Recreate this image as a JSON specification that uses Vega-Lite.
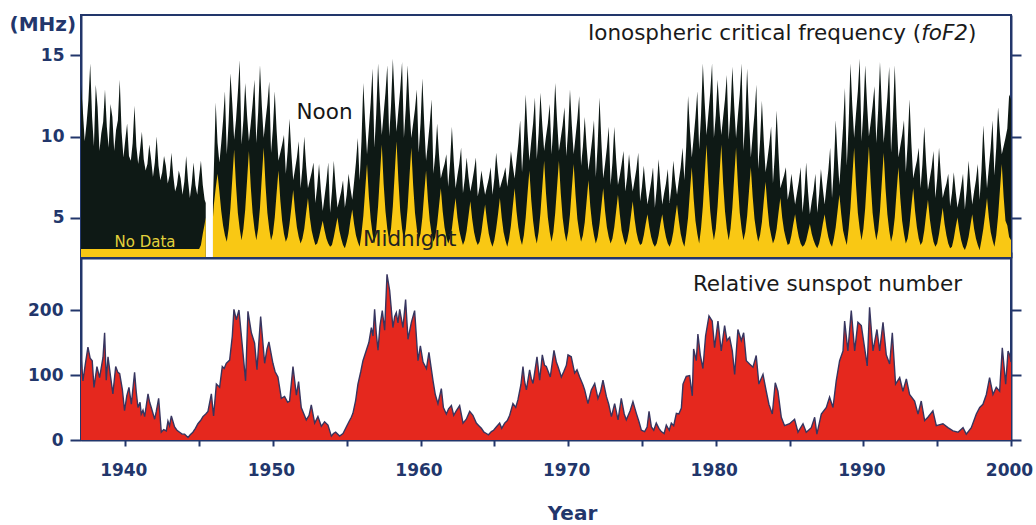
{
"$schema":"https://vega.github.io/schema/vega-lite/v6.json",
"background":"white",
"padding":{"left":8,"top":13,"right":20,"bottom":0},
"spacing":0,
"bounds":"flush",
"config":{
 "font":"DejaVu Sans",
 "view":{"stroke":"#22366b","strokeWidth":2},
 "axis":{"domainColor":"#22366b","domainWidth":2,"tickColor":"#22366b","tickWidth":2,"labelColor":"#22366b","labelFont":"DejaVu Sans","labelFontSize":17,"labelFontWeight":"bold","grid":false,"titleColor":"#22366b","titleFont":"DejaVu Sans","titleFontWeight":"normal","zindex":1,"labelOverlap":false,"labelBound":false}
},
"datasets":{
"fof2":[
{"t":1937,"n":13.2,"m":3.05},{"t":1937.125,"n":11.6,"m":3.05},{"t":1937.25,"n":9.7,"m":3.05},{"t":1937.375,"n":10.8,"m":3.05},{"t":1937.5,"n":12.2,"m":3.05},{"t":1937.625,"n":14.5,"m":3.05},{"t":1937.75,"n":11.2,"m":3.05},{"t":1937.875,"n":9.4,"m":3.05},
{"t":1938,"n":13.2,"m":3.05},{"t":1938.125,"n":11.8,"m":3.05},{"t":1938.25,"n":9.1,"m":3.05},{"t":1938.375,"n":10.2,"m":3.05},{"t":1938.5,"n":10.9,"m":3.05},{"t":1938.625,"n":12.9,"m":3.05},{"t":1938.75,"n":10.6,"m":3.05},{"t":1938.875,"n":9.3,"m":3.05},
{"t":1939,"n":12.0,"m":3.05},{"t":1939.125,"n":11.2,"m":3.05},{"t":1939.25,"n":9.1,"m":3.05},{"t":1939.375,"n":10.4,"m":3.05},{"t":1939.5,"n":11.0,"m":3.05},{"t":1939.625,"n":13.5,"m":3.05},{"t":1939.75,"n":10.3,"m":3.05},{"t":1939.875,"n":8.7,"m":3.05},
{"t":1940,"n":9.8,"m":3.05},{"t":1940.125,"n":10.8,"m":3.05},{"t":1940.25,"n":8.8,"m":3.05},{"t":1940.375,"n":8.5,"m":3.05},{"t":1940.5,"n":9.6,"m":3.05},{"t":1940.625,"n":11.9,"m":3.05},{"t":1940.75,"n":9.4,"m":3.05},{"t":1940.875,"n":8.3,"m":3.05},
{"t":1941,"n":9.2,"m":3.05},{"t":1941.125,"n":10.3,"m":3.05},{"t":1941.25,"n":8.6,"m":3.05},{"t":1941.375,"n":7.9,"m":3.05},{"t":1941.5,"n":8.3,"m":3.05},{"t":1941.625,"n":9.5,"m":3.05},{"t":1941.75,"n":8.6,"m":3.05},{"t":1941.875,"n":7.5,"m":3.05},
{"t":1942,"n":8.4,"m":3.05},{"t":1942.125,"n":10.0,"m":3.05},{"t":1942.25,"n":8.2,"m":3.05},{"t":1942.375,"n":7.3,"m":3.05},{"t":1942.5,"n":7.8,"m":3.05},{"t":1942.625,"n":8.8,"m":3.05},{"t":1942.75,"n":8.2,"m":3.05},{"t":1942.875,"n":7.1,"m":3.05},
{"t":1943,"n":7.6,"m":3.05},{"t":1943.125,"n":9.0,"m":3.05},{"t":1943.25,"n":7.6,"m":3.05},{"t":1943.375,"n":6.6,"m":3.05},{"t":1943.5,"n":7.0,"m":3.05},{"t":1943.625,"n":7.9,"m":3.05},{"t":1943.75,"n":7.4,"m":3.05},{"t":1943.875,"n":6.4,"m":3.05},
{"t":1944,"n":7.2,"m":3.05},{"t":1944.125,"n":8.8,"m":3.05},{"t":1944.25,"n":7.3,"m":3.05},{"t":1944.375,"n":6.2,"m":3.05},{"t":1944.5,"n":7.1,"m":3.05},{"t":1944.625,"n":8.4,"m":3.05},{"t":1944.75,"n":7.0,"m":3.05},{"t":1944.875,"n":6.4,"m":3.05},
{"t":1945,"n":7.5,"m":3.05},{"t":1945.125,"n":8.5,"m":3.3},{"t":1945.25,"n":7.0,"m":4.0},{"t":1945.375,"n":6.1,"m":4.6},{"t":1945.45,"n":5.9,"m":5.0},
{"t":1945.7,"n":null,"m":null},
{"t":1945.94,"n":6.0,"m":5.0},
{"t":1946,"n":8.0,"m":5.8},{"t":1946.125,"n":12.1,"m":6.8},{"t":1946.25,"n":9.6,"m":7.7},{"t":1946.375,"n":8.4,"m":6.6},{"t":1946.5,"n":9.6,"m":5.4},{"t":1946.625,"n":11.0,"m":4.5},{"t":1946.75,"n":12.8,"m":3.9},{"t":1946.875,"n":8.9,"m":3.5},
{"t":1947,"n":10.9,"m":4.3},{"t":1947.125,"n":13.9,"m":5.6},{"t":1947.25,"n":12.0,"m":7.4},{"t":1947.375,"n":9.8,"m":9.2},{"t":1947.5,"n":11.0,"m":7.0},{"t":1947.625,"n":12.7,"m":5.3},{"t":1947.75,"n":14.7,"m":4.3},{"t":1947.875,"n":9.5,"m":3.6},
{"t":1948,"n":11.0,"m":4.3},{"t":1948.125,"n":13.3,"m":5.5},{"t":1948.25,"n":11.3,"m":7.3},{"t":1948.375,"n":9.7,"m":9.1},{"t":1948.5,"n":10.8,"m":6.9},{"t":1948.625,"n":12.0,"m":5.3},{"t":1948.75,"n":13.5,"m":4.3},{"t":1948.875,"n":9.6,"m":3.6},
{"t":1949,"n":11.5,"m":4.3},{"t":1949.125,"n":14.4,"m":5.6},{"t":1949.25,"n":11.9,"m":7.5},{"t":1949.375,"n":9.9,"m":9.3},{"t":1949.5,"n":11.0,"m":7.0},{"t":1949.625,"n":12.0,"m":5.3},{"t":1949.75,"n":13.4,"m":4.3},{"t":1949.875,"n":9.0,"m":3.6},
{"t":1950,"n":10.5,"m":4.0},{"t":1950.125,"n":12.8,"m":5.0},{"t":1950.25,"n":10.4,"m":6.5},{"t":1950.375,"n":8.5,"m":7.9},{"t":1950.5,"n":9.0,"m":6.1},{"t":1950.625,"n":9.5,"m":4.8},{"t":1950.75,"n":10.1,"m":4.0},{"t":1950.875,"n":7.7,"m":3.5},
{"t":1951,"n":9.1,"m":3.8},{"t":1951.125,"n":11.1,"m":4.6},{"t":1951.25,"n":9.0,"m":5.6},{"t":1951.375,"n":7.3,"m":6.7},{"t":1951.5,"n":8.0,"m":5.4},{"t":1951.625,"n":8.7,"m":4.4},{"t":1951.75,"n":9.7,"m":3.8},{"t":1951.875,"n":6.8,"m":3.4},
{"t":1952,"n":8.1,"m":3.7},{"t":1952.125,"n":10.0,"m":4.3},{"t":1952.25,"n":8.2,"m":5.3},{"t":1952.375,"n":6.8,"m":6.2},{"t":1952.5,"n":7.3,"m":5.0},{"t":1952.625,"n":7.8,"m":4.2},{"t":1952.75,"n":8.4,"m":3.7},{"t":1952.875,"n":5.9,"m":3.3},
{"t":1953,"n":6.9,"m":3.4},{"t":1953.125,"n":8.3,"m":3.8},{"t":1953.25,"n":6.7,"m":4.3},{"t":1953.375,"n":5.4,"m":4.8},{"t":1953.5,"n":6.3,"m":4.2},{"t":1953.625,"n":7.2,"m":3.7},{"t":1953.75,"n":8.4,"m":3.4},{"t":1953.875,"n":5.3,"m":3.2},
{"t":1954,"n":6.6,"m":3.3},{"t":1954.125,"n":8.5,"m":3.8},{"t":1954.25,"n":6.9,"m":4.4},{"t":1954.375,"n":5.6,"m":5.0},{"t":1954.5,"n":6.1,"m":4.2},{"t":1954.625,"n":6.6,"m":3.7},{"t":1954.75,"n":7.3,"m":3.3},{"t":1954.875,"n":5.6,"m":3.1},
{"t":1955,"n":6.4,"m":3.5},{"t":1955.125,"n":7.7,"m":4.0},{"t":1955.25,"n":6.8,"m":4.8},{"t":1955.375,"n":6.1,"m":5.5},{"t":1955.5,"n":7.2,"m":4.6},{"t":1955.625,"n":8.4,"m":3.9},{"t":1955.75,"n":9.9,"m":3.5},{"t":1955.875,"n":7.3,"m":3.2},
{"t":1956,"n":9.7,"m":4.0},{"t":1956.125,"n":13.3,"m":5.1},{"t":1956.25,"n":10.9,"m":6.7},{"t":1956.375,"n":8.9,"m":8.3},{"t":1956.5,"n":10.5,"m":6.3},{"t":1956.625,"n":12.1,"m":4.9},{"t":1956.75,"n":14.2,"m":4.0},{"t":1956.875,"n":9.3,"m":3.4},
{"t":1957,"n":11.4,"m":4.3},{"t":1957.125,"n":14.5,"m":5.7},{"t":1957.25,"n":12.1,"m":7.6},{"t":1957.375,"n":10.1,"m":9.5},{"t":1957.5,"n":11.4,"m":7.1},{"t":1957.625,"n":12.7,"m":5.4},{"t":1957.75,"n":14.4,"m":4.3},{"t":1957.875,"n":10.0,"m":3.6},
{"t":1958,"n":11.9,"m":4.3},{"t":1958.125,"n":14.8,"m":5.7},{"t":1958.25,"n":12.3,"m":7.7},{"t":1958.375,"n":10.3,"m":9.7},{"t":1958.5,"n":11.6,"m":7.3},{"t":1958.625,"n":12.9,"m":5.4},{"t":1958.75,"n":14.6,"m":4.3},{"t":1958.875,"n":9.9,"m":3.6},
{"t":1959,"n":11.7,"m":4.3},{"t":1959.125,"n":14.4,"m":5.6},{"t":1959.25,"n":11.9,"m":7.5},{"t":1959.375,"n":9.9,"m":9.3},{"t":1959.5,"n":10.8,"m":7.0},{"t":1959.625,"n":11.7,"m":5.3},{"t":1959.75,"n":12.9,"m":4.3},{"t":1959.875,"n":9.0,"m":3.6},
{"t":1960,"n":10.8,"m":4.0},{"t":1960.125,"n":13.6,"m":5.0},{"t":1960.25,"n":10.8,"m":6.5},{"t":1960.375,"n":8.5,"m":7.9},{"t":1960.5,"n":9.6,"m":6.1},{"t":1960.625,"n":10.8,"m":4.8},{"t":1960.75,"n":12.3,"m":4.0},{"t":1960.875,"n":7.7,"m":3.5},
{"t":1961,"n":8.9,"m":3.8},{"t":1961.125,"n":10.8,"m":4.6},{"t":1961.25,"n":8.9,"m":5.7},{"t":1961.375,"n":7.4,"m":6.8},{"t":1961.5,"n":7.9,"m":5.4},{"t":1961.625,"n":8.3,"m":4.4},{"t":1961.75,"n":8.9,"m":3.8},{"t":1961.875,"n":6.9,"m":3.4},
{"t":1962,"n":8.4,"m":3.7},{"t":1962.125,"n":10.6,"m":4.3},{"t":1962.25,"n":8.5,"m":5.3},{"t":1962.375,"n":6.8,"m":6.2},{"t":1962.5,"n":7.6,"m":5.0},{"t":1962.625,"n":8.3,"m":4.2},{"t":1962.75,"n":9.3,"m":3.7},{"t":1962.875,"n":6.5,"m":3.3},
{"t":1963,"n":7.4,"m":3.6},{"t":1963.125,"n":8.7,"m":4.2},{"t":1963.25,"n":7.5,"m":5.1},{"t":1963.375,"n":6.6,"m":6.0},{"t":1963.5,"n":7.2,"m":4.9},{"t":1963.625,"n":7.9,"m":4.1},{"t":1963.75,"n":8.7,"m":3.6},{"t":1963.875,"n":6.3,"m":3.3},
{"t":1964,"n":6.9,"m":3.5},{"t":1964.125,"n":7.9,"m":4.1},{"t":1964.25,"n":7.1,"m":5.0},{"t":1964.375,"n":6.4,"m":5.8},{"t":1964.5,"n":6.9,"m":4.8},{"t":1964.625,"n":7.4,"m":4.0},{"t":1964.75,"n":8.1,"m":3.5},{"t":1964.875,"n":6.4,"m":3.2},
{"t":1965,"n":7.4,"m":3.6},{"t":1965.125,"n":9.0,"m":4.3},{"t":1965.25,"n":7.8,"m":5.2},{"t":1965.375,"n":6.8,"m":6.2},{"t":1965.5,"n":7.2,"m":5.0},{"t":1965.625,"n":7.6,"m":4.1},{"t":1965.75,"n":8.1,"m":3.6},{"t":1965.875,"n":6.9,"m":3.2},
{"t":1966,"n":7.8,"m":3.7},{"t":1966.125,"n":9.1,"m":4.5},{"t":1966.25,"n":8.2,"m":5.7},{"t":1966.375,"n":7.4,"m":6.8},{"t":1966.5,"n":8.5,"m":5.4},{"t":1966.625,"n":9.6,"m":4.4},{"t":1966.75,"n":11.0,"m":3.7},{"t":1966.875,"n":7.8,"m":3.3},
{"t":1967,"n":9.7,"m":3.9},{"t":1967.125,"n":12.6,"m":5.0},{"t":1967.25,"n":10.3,"m":6.5},{"t":1967.375,"n":8.5,"m":7.9},{"t":1967.5,"n":9.7,"m":6.1},{"t":1967.625,"n":10.8,"m":4.8},{"t":1967.75,"n":12.4,"m":3.9},{"t":1967.875,"n":8.6,"m":3.4},
{"t":1968,"n":10.2,"m":4.1},{"t":1968.125,"n":12.7,"m":5.3},{"t":1968.25,"n":10.7,"m":6.9},{"t":1968.375,"n":9.1,"m":8.5},{"t":1968.5,"n":10.0,"m":6.5},{"t":1968.625,"n":10.8,"m":5.0},{"t":1968.75,"n":12.0,"m":4.1},{"t":1968.875,"n":8.9,"m":3.5},
{"t":1969,"n":10.7,"m":4.1},{"t":1969.125,"n":13.3,"m":5.3},{"t":1969.25,"n":11.0,"m":6.9},{"t":1969.375,"n":9.1,"m":8.5},{"t":1969.5,"n":9.9,"m":6.5},{"t":1969.625,"n":10.7,"m":5.0},{"t":1969.75,"n":11.8,"m":4.1},{"t":1969.875,"n":8.8,"m":3.5},
{"t":1970,"n":10.4,"m":4.1},{"t":1970.125,"n":12.9,"m":5.2},{"t":1970.25,"n":10.7,"m":6.8},{"t":1970.375,"n":8.9,"m":8.3},{"t":1970.5,"n":10.0,"m":6.4},{"t":1970.625,"n":11.1,"m":4.9},{"t":1970.75,"n":12.5,"m":4.1},{"t":1970.875,"n":8.2,"m":3.5},
{"t":1971,"n":9.4,"m":3.9},{"t":1971.125,"n":11.2,"m":4.7},{"t":1971.25,"n":9.4,"m":6.0},{"t":1971.375,"n":7.9,"m":7.3},{"t":1971.5,"n":8.8,"m":5.7},{"t":1971.625,"n":9.8,"m":4.6},{"t":1971.75,"n":11.0,"m":3.9},{"t":1971.875,"n":7.5,"m":3.4},
{"t":1972,"n":9.5,"m":3.8},{"t":1972.125,"n":12.4,"m":4.6},{"t":1972.25,"n":9.7,"m":5.7},{"t":1972.375,"n":7.4,"m":6.8},{"t":1972.5,"n":8.3,"m":5.4},{"t":1972.625,"n":9.3,"m":4.4},{"t":1972.75,"n":10.6,"m":3.8},{"t":1972.875,"n":7.0,"m":3.4},
{"t":1973,"n":8.4,"m":3.7},{"t":1973.125,"n":10.6,"m":4.4},{"t":1973.25,"n":8.6,"m":5.4},{"t":1973.375,"n":7.0,"m":6.4},{"t":1973.5,"n":7.6,"m":5.2},{"t":1973.625,"n":8.3,"m":4.2},{"t":1973.75,"n":9.1,"m":3.7},{"t":1973.875,"n":6.6,"m":3.3},
{"t":1974,"n":7.5,"m":3.6},{"t":1974.125,"n":8.9,"m":4.2},{"t":1974.25,"n":7.6,"m":5.1},{"t":1974.375,"n":6.6,"m":6.0},{"t":1974.5,"n":7.3,"m":4.9},{"t":1974.625,"n":8.0,"m":4.1},{"t":1974.75,"n":9.0,"m":3.6},{"t":1974.875,"n":6.0,"m":3.3},
{"t":1975,"n":6.9,"m":3.4},{"t":1975.125,"n":8.2,"m":3.9},{"t":1975.25,"n":6.9,"m":4.6},{"t":1975.375,"n":5.8,"m":5.2},{"t":1975.5,"n":6.5,"m":4.4},{"t":1975.625,"n":7.2,"m":3.8},{"t":1975.75,"n":8.1,"m":3.4},{"t":1975.875,"n":5.6,"m":3.2},
{"t":1976,"n":6.8,"m":3.4},{"t":1976.125,"n":8.6,"m":3.9},{"t":1976.25,"n":7.1,"m":4.6},{"t":1976.375,"n":5.8,"m":5.2},{"t":1976.5,"n":6.5,"m":4.4},{"t":1976.625,"n":7.1,"m":3.8},{"t":1976.75,"n":8.0,"m":3.4},{"t":1976.875,"n":5.9,"m":3.2},
{"t":1977,"n":6.9,"m":3.5},{"t":1977.125,"n":8.5,"m":4.1},{"t":1977.25,"n":7.3,"m":5.0},{"t":1977.375,"n":6.4,"m":5.8},{"t":1977.5,"n":7.3,"m":4.8},{"t":1977.625,"n":8.1,"m":4.0},{"t":1977.75,"n":9.3,"m":3.5},{"t":1977.875,"n":7.3,"m":3.2},
{"t":1978,"n":9.4,"m":4.0},{"t":1978.125,"n":12.5,"m":5.0},{"t":1978.25,"n":10.4,"m":6.6},{"t":1978.375,"n":8.7,"m":8.1},{"t":1978.5,"n":9.9,"m":6.2},{"t":1978.625,"n":11.2,"m":4.8},{"t":1978.75,"n":12.8,"m":4.0},{"t":1978.875,"n":9.2,"m":3.4},
{"t":1979,"n":11.3,"m":4.3},{"t":1979.125,"n":14.5,"m":5.7},{"t":1979.25,"n":12.1,"m":7.6},{"t":1979.375,"n":10.1,"m":9.5},{"t":1979.5,"n":11.4,"m":7.1},{"t":1979.625,"n":12.7,"m":5.4},{"t":1979.75,"n":14.5,"m":4.3},{"t":1979.875,"n":9.9,"m":3.6},
{"t":1980,"n":11.3,"m":4.3},{"t":1980.125,"n":13.5,"m":5.7},{"t":1980.25,"n":11.6,"m":7.6},{"t":1980.375,"n":10.1,"m":9.5},{"t":1980.5,"n":11.2,"m":7.1},{"t":1980.625,"n":12.3,"m":5.4},{"t":1980.75,"n":13.8,"m":4.3},{"t":1980.875,"n":9.8,"m":3.6},
{"t":1981,"n":11.6,"m":4.3},{"t":1981.125,"n":14.3,"m":5.6},{"t":1981.25,"n":11.9,"m":7.5},{"t":1981.375,"n":9.9,"m":9.3},{"t":1981.5,"n":11.3,"m":7.0},{"t":1981.625,"n":12.6,"m":5.3},{"t":1981.75,"n":14.5,"m":4.3},{"t":1981.875,"n":9.1,"m":3.6},
{"t":1982,"n":11.1,"m":4.1},{"t":1982.125,"n":14.2,"m":5.1},{"t":1982.25,"n":11.2,"m":6.6},{"t":1982.375,"n":8.7,"m":8.1},{"t":1982.5,"n":10.1,"m":6.3},{"t":1982.625,"n":11.4,"m":4.9},{"t":1982.75,"n":13.2,"m":4.1},{"t":1982.875,"n":8.0,"m":3.5},
{"t":1983,"n":9.7,"m":3.9},{"t":1983.125,"n":12.2,"m":4.7},{"t":1983.25,"n":9.8,"m":6.0},{"t":1983.375,"n":7.8,"m":7.2},{"t":1983.5,"n":8.6,"m":5.7},{"t":1983.625,"n":9.5,"m":4.5},{"t":1983.75,"n":10.6,"m":3.9},{"t":1983.875,"n":7.1,"m":3.4},
{"t":1984,"n":8.9,"m":3.7},{"t":1984.125,"n":11.6,"m":4.3},{"t":1984.25,"n":9.0,"m":5.3},{"t":1984.375,"n":6.8,"m":6.2},{"t":1984.5,"n":7.2,"m":5.0},{"t":1984.625,"n":7.6,"m":4.2},{"t":1984.75,"n":8.1,"m":3.7},{"t":1984.875,"n":6.1,"m":3.3},
{"t":1985,"n":6.7,"m":3.4},{"t":1985.125,"n":7.7,"m":3.9},{"t":1985.25,"n":6.7,"m":4.6},{"t":1985.375,"n":5.8,"m":5.2},{"t":1985.5,"n":6.5,"m":4.4},{"t":1985.625,"n":7.2,"m":3.8},{"t":1985.75,"n":8.1,"m":3.4},{"t":1985.875,"n":5.3,"m":3.2},
{"t":1986,"n":6.5,"m":3.3},{"t":1986.125,"n":8.4,"m":3.6},{"t":1986.25,"n":6.6,"m":4.1},{"t":1986.375,"n":5.2,"m":4.6},{"t":1986.5,"n":6.0,"m":4.0},{"t":1986.625,"n":6.7,"m":3.6},{"t":1986.75,"n":7.7,"m":3.3},{"t":1986.875,"n":5.3,"m":3.1},
{"t":1987,"n":6.4,"m":3.4},{"t":1987.125,"n":8.0,"m":3.9},{"t":1987.25,"n":6.8,"m":4.6},{"t":1987.375,"n":5.8,"m":5.2},{"t":1987.5,"n":6.9,"m":4.4},{"t":1987.625,"n":7.9,"m":3.8},{"t":1987.75,"n":9.3,"m":3.4},{"t":1987.875,"n":6.2,"m":3.2},
{"t":1988,"n":8.1,"m":3.7},{"t":1988.125,"n":11.0,"m":4.4},{"t":1988.25,"n":8.8,"m":5.4},{"t":1988.375,"n":7.0,"m":6.4},{"t":1988.5,"n":8.8,"m":5.2},{"t":1988.625,"n":10.6,"m":4.2},{"t":1988.75,"n":13.0,"m":3.7},{"t":1988.875,"n":8.2,"m":3.3},
{"t":1989,"n":10.7,"m":4.3},{"t":1989.125,"n":14.5,"m":5.6},{"t":1989.25,"n":11.9,"m":7.5},{"t":1989.375,"n":9.9,"m":9.3},{"t":1989.5,"n":11.4,"m":7.0},{"t":1989.625,"n":12.8,"m":5.3},{"t":1989.75,"n":14.8,"m":4.3},{"t":1989.875,"n":9.7,"m":3.6},
{"t":1990,"n":11.6,"m":4.3},{"t":1990.125,"n":14.4,"m":5.6},{"t":1990.25,"n":12.0,"m":7.5},{"t":1990.375,"n":10.0,"m":9.4},{"t":1990.5,"n":10.9,"m":7.1},{"t":1990.625,"n":11.9,"m":5.3},{"t":1990.75,"n":13.1,"m":4.3},{"t":1990.875,"n":9.6,"m":3.6},
{"t":1991,"n":11.6,"m":4.2},{"t":1991.125,"n":14.6,"m":5.4},{"t":1991.25,"n":11.8,"m":7.2},{"t":1991.375,"n":9.6,"m":9.0},{"t":1991.5,"n":11.0,"m":6.8},{"t":1991.625,"n":12.4,"m":5.2},{"t":1991.75,"n":14.3,"m":4.2},{"t":1991.875,"n":9.0,"m":3.5},
{"t":1992,"n":11.2,"m":4.0},{"t":1992.125,"n":14.4,"m":5.0},{"t":1992.25,"n":11.2,"m":6.6},{"t":1992.375,"n":8.7,"m":8.1},{"t":1992.5,"n":9.4,"m":6.2},{"t":1992.625,"n":10.1,"m":4.8},{"t":1992.75,"n":11.0,"m":4.0},{"t":1992.875,"n":7.8,"m":3.4},
{"t":1993,"n":9.6,"m":3.7},{"t":1993.125,"n":12.3,"m":4.5},{"t":1993.25,"n":9.6,"m":5.7},{"t":1993.375,"n":7.4,"m":6.8},{"t":1993.5,"n":8.0,"m":5.4},{"t":1993.625,"n":8.5,"m":4.4},{"t":1993.75,"n":9.3,"m":3.7},{"t":1993.875,"n":6.8,"m":3.3},
{"t":1994,"n":8.3,"m":3.5},{"t":1994.125,"n":10.6,"m":4.2},{"t":1994.25,"n":8.4,"m":5.2},{"t":1994.375,"n":6.7,"m":6.1},{"t":1994.5,"n":7.4,"m":4.9},{"t":1994.625,"n":8.1,"m":4.1},{"t":1994.75,"n":9.1,"m":3.5},{"t":1994.875,"n":6.2,"m":3.2},
{"t":1995,"n":7.4,"m":3.4},{"t":1995.125,"n":9.3,"m":4.0},{"t":1995.25,"n":7.6,"m":4.8},{"t":1995.375,"n":6.2,"m":5.6},{"t":1995.5,"n":6.7,"m":4.6},{"t":1995.625,"n":7.1,"m":3.9},{"t":1995.75,"n":7.7,"m":3.4},{"t":1995.875,"n":5.7,"m":3.1},
{"t":1996,"n":6.5,"m":3.2},{"t":1996.125,"n":7.8,"m":3.7},{"t":1996.25,"n":6.6,"m":4.4},{"t":1996.375,"n":5.6,"m":5.0},{"t":1996.5,"n":6.2,"m":4.2},{"t":1996.625,"n":6.9,"m":3.6},{"t":1996.75,"n":7.7,"m":3.2},{"t":1996.875,"n":5.5,"m":3.0},
{"t":1997,"n":6.7,"m":3.3},{"t":1997.125,"n":8.5,"m":3.8},{"t":1997.25,"n":7.0,"m":4.5},{"t":1997.375,"n":5.8,"m":5.2},{"t":1997.5,"n":6.6,"m":4.3},{"t":1997.625,"n":7.3,"m":3.7},{"t":1997.75,"n":8.3,"m":3.3},{"t":1997.875,"n":6.1,"m":3.0},
{"t":1998,"n":7.9,"m":3.6},{"t":1998.125,"n":10.7,"m":4.3},{"t":1998.25,"n":8.5,"m":5.2},{"t":1998.375,"n":6.8,"m":6.2},{"t":1998.5,"n":8.1,"m":5.0},{"t":1998.625,"n":9.3,"m":4.1},{"t":1998.75,"n":11.0,"m":3.6},{"t":1998.875,"n":7.6,"m":3.2},
{"t":1999,"n":9.3,"m":3.9},{"t":1999.125,"n":11.8,"m":5.1},{"t":1999.25,"n":10.2,"m":6.7},{"t":1999.375,"n":8.9,"m":8.3},{"t":1999.5,"n":9.4,"m":6.3},{"t":1999.625,"n":9.9,"m":4.8},{"t":1999.75,"n":10.5,"m":4.5},{"t":1999.875,"n":12.6,"m":3.8},
{"t":2000,"n":12.3,"m":3.6}
],
"ssn":[
{"t":1937,"r":130},{"t":1937.13,"r":91},{"t":1937.3,"r":118},{"t":1937.47,"r":143},{"t":1937.62,"r":126},{"t":1937.76,"r":122},{"t":1937.88,"r":81},{"t":1938.08,"r":113},{"t":1938.26,"r":96},{"t":1938.49,"r":127},{"t":1938.6,"r":165},{"t":1938.71,"r":92},{"t":1938.83,"r":128},{"t":1939,"r":98},{"t":1939.16,"r":71},{"t":1939.35,"r":113},{"t":1939.5,"r":104},{"t":1939.62,"r":102},{"t":1939.8,"r":78},{"t":1939.95,"r":45},
{"t":1940.1,"r":68},{"t":1940.25,"r":81},{"t":1940.41,"r":55},{"t":1940.63,"r":104},{"t":1940.75,"r":72},{"t":1940.86,"r":50},{"t":1941,"r":58},{"t":1941.08,"r":40},{"t":1941.2,"r":46},{"t":1941.31,"r":36},{"t":1941.54,"r":71},{"t":1941.65,"r":58},{"t":1941.76,"r":50},{"t":1941.99,"r":32},{"t":1942.1,"r":44},{"t":1942.26,"r":64},{"t":1942.44,"r":12},{"t":1942.6,"r":16},{"t":1942.78,"r":14},{"t":1942.89,"r":29},
{"t":1943,"r":22},{"t":1943.12,"r":37},{"t":1943.34,"r":20},{"t":1943.5,"r":15},{"t":1943.68,"r":12},{"t":1943.85,"r":9},{"t":1944.02,"r":9},{"t":1944.25,"r":4},{"t":1944.4,"r":8},{"t":1944.58,"r":12},{"t":1944.75,"r":18},{"t":1944.92,"r":25},{"t":1945.1,"r":30},{"t":1945.26,"r":36},{"t":1945.45,"r":40},{"t":1945.6,"r":44},{"t":1945.83,"r":71},{"t":1945.98,"r":37},
{"t":1946.17,"r":86},{"t":1946.39,"r":81},{"t":1946.57,"r":113},{"t":1946.7,"r":110},{"t":1946.84,"r":118},{"t":1947.07,"r":123},{"t":1947.25,"r":160},{"t":1947.36,"r":201},{"t":1947.52,"r":185},{"t":1947.7,"r":200},{"t":1947.93,"r":144},{"t":1948.15,"r":91},{"t":1948.31,"r":198},{"t":1948.54,"r":165},{"t":1948.76,"r":149},{"t":1948.92,"r":108},{"t":1949.17,"r":190},{"t":1949.44,"r":118},{"t":1949.6,"r":140},{"t":1949.73,"r":151},
{"t":1950,"r":118},{"t":1950.15,"r":105},{"t":1950.34,"r":97},{"t":1950.57,"r":64},{"t":1950.79,"r":67},{"t":1951,"r":58},{"t":1951.13,"r":60},{"t":1951.36,"r":113},{"t":1951.59,"r":69},{"t":1951.74,"r":90},{"t":1951.92,"r":50},{"t":1952.1,"r":40},{"t":1952.26,"r":31},{"t":1952.45,"r":38},{"t":1952.6,"r":54},{"t":1952.83,"r":26},{"t":1953.05,"r":36},{"t":1953.28,"r":21},{"t":1953.5,"r":28},{"t":1953.73,"r":23},{"t":1953.96,"r":6},
{"t":1954.1,"r":10},{"t":1954.25,"r":12},{"t":1954.52,"r":6},{"t":1954.75,"r":10},{"t":1954.97,"r":20},{"t":1955.15,"r":28},{"t":1955.31,"r":35},{"t":1955.42,"r":41},{"t":1955.6,"r":60},{"t":1955.76,"r":86},{"t":1955.95,"r":105},{"t":1956.1,"r":122},{"t":1956.33,"r":138},{"t":1956.5,"r":150},{"t":1956.67,"r":173},{"t":1956.78,"r":160},{"t":1956.89,"r":201},
{"t":1957,"r":165},{"t":1957.12,"r":138},{"t":1957.25,"r":175},{"t":1957.41,"r":199},{"t":1957.57,"r":169},{"t":1957.73,"r":255},{"t":1957.91,"r":230},{"t":1958.13,"r":173},{"t":1958.25,"r":190},{"t":1958.36,"r":196},{"t":1958.47,"r":180},{"t":1958.59,"r":201},{"t":1958.81,"r":173},{"t":1958.99,"r":216},{"t":1959.15,"r":155},{"t":1959.38,"r":181},{"t":1959.6,"r":199},{"t":1959.83,"r":122},{"t":1959.99,"r":145},
{"t":1960.17,"r":120},{"t":1960.4,"r":110},{"t":1960.57,"r":135},{"t":1960.84,"r":92},{"t":1961,"r":70},{"t":1961.18,"r":56},{"t":1961.41,"r":79},{"t":1961.55,"r":50},{"t":1961.75,"r":40},{"t":1961.9,"r":48},{"t":1962.09,"r":53},{"t":1962.25,"r":38},{"t":1962.42,"r":45},{"t":1962.65,"r":53},{"t":1962.88,"r":26},{"t":1963.1,"r":32},{"t":1963.33,"r":44},{"t":1963.55,"r":38},{"t":1963.78,"r":26},{"t":1963.95,"r":22},
{"t":1964.12,"r":18},{"t":1964.3,"r":12},{"t":1964.46,"r":10},{"t":1964.6,"r":8},{"t":1964.8,"r":13},{"t":1964.95,"r":15},{"t":1965.13,"r":20},{"t":1965.36,"r":26},{"t":1965.5,"r":18},{"t":1965.7,"r":26},{"t":1965.88,"r":30},{"t":1966.04,"r":38},{"t":1966.26,"r":56},{"t":1966.45,"r":50},{"t":1966.6,"r":62},{"t":1966.8,"r":85},{"t":1966.94,"r":113},
{"t":1967.05,"r":90},{"t":1967.17,"r":77},{"t":1967.39,"r":108},{"t":1967.5,"r":95},{"t":1967.62,"r":87},{"t":1967.89,"r":128},{"t":1968.07,"r":92},{"t":1968.25,"r":131},{"t":1968.4,"r":115},{"t":1968.52,"r":113},{"t":1968.79,"r":97},{"t":1969.04,"r":138},{"t":1969.2,"r":120},{"t":1969.31,"r":113},{"t":1969.54,"r":97},{"t":1969.7,"r":105},{"t":1969.88,"r":115},{"t":1969.99,"r":131},
{"t":1970.21,"r":128},{"t":1970.44,"r":103},{"t":1970.6,"r":108},{"t":1970.78,"r":97},{"t":1971,"r":85},{"t":1971.12,"r":77},{"t":1971.34,"r":56},{"t":1971.57,"r":77},{"t":1971.8,"r":87},{"t":1972.02,"r":64},{"t":1972.2,"r":75},{"t":1972.36,"r":92},{"t":1972.59,"r":67},{"t":1972.75,"r":55},{"t":1972.93,"r":36},{"t":1973.15,"r":56},{"t":1973.38,"r":31},{"t":1973.6,"r":64},{"t":1973.8,"r":40},{"t":1973.94,"r":31},
{"t":1974.2,"r":45},{"t":1974.39,"r":59},{"t":1974.62,"r":41},{"t":1974.8,"r":28},{"t":1974.96,"r":15},{"t":1975.18,"r":13},{"t":1975.35,"r":20},{"t":1975.48,"r":44},{"t":1975.64,"r":20},{"t":1975.8,"r":15},{"t":1975.97,"r":26},{"t":1976.15,"r":18},{"t":1976.31,"r":13},{"t":1976.5,"r":10},{"t":1976.65,"r":23},{"t":1976.85,"r":15},{"t":1976.99,"r":26},
{"t":1977.15,"r":22},{"t":1977.33,"r":41},{"t":1977.5,"r":40},{"t":1977.67,"r":49},{"t":1977.78,"r":86},{"t":1978,"r":98},{"t":1978.23,"r":99},{"t":1978.41,"r":68},{"t":1978.5,"r":140},{"t":1978.68,"r":122},{"t":1978.79,"r":163},{"t":1978.95,"r":131},{"t":1979.13,"r":110},{"t":1979.31,"r":160},{"t":1979.54,"r":191},{"t":1979.76,"r":183},{"t":1979.92,"r":142},
{"t":1980.15,"r":183},{"t":1980.37,"r":137},{"t":1980.6,"r":176},{"t":1980.76,"r":153},{"t":1980.94,"r":158},{"t":1981.12,"r":137},{"t":1981.28,"r":101},{"t":1981.5,"r":170},{"t":1981.73,"r":153},{"t":1981.89,"r":165},{"t":1982.07,"r":122},{"t":1982.29,"r":117},{"t":1982.52,"r":112},{"t":1982.74,"r":130},{"t":1982.92,"r":86},
{"t":1983.2,"r":101},{"t":1983.42,"r":75},{"t":1983.6,"r":55},{"t":1983.83,"r":40},{"t":1984.03,"r":88},{"t":1984.21,"r":75},{"t":1984.44,"r":35},{"t":1984.66,"r":22},{"t":1985,"r":25},{"t":1985.34,"r":32},{"t":1985.57,"r":12},{"t":1985.91,"r":25},{"t":1986.13,"r":12},{"t":1986.47,"r":19},{"t":1986.7,"r":35},{"t":1986.85,"r":9},
{"t":1987.15,"r":40},{"t":1987.49,"r":50},{"t":1987.71,"r":66},{"t":1987.94,"r":50},{"t":1988.16,"r":91},{"t":1988.39,"r":122},{"t":1988.62,"r":137},{"t":1988.73,"r":183},{"t":1988.95,"r":137},{"t":1989.18,"r":199},{"t":1989.41,"r":137},{"t":1989.63,"r":181},{"t":1989.86,"r":176},
{"t":1990.08,"r":142},{"t":1990.26,"r":114},{"t":1990.42,"r":204},{"t":1990.65,"r":137},{"t":1990.92,"r":170},{"t":1991.1,"r":137},{"t":1991.33,"r":181},{"t":1991.55,"r":131},{"t":1991.78,"r":117},{"t":1991.96,"r":165},{"t":1992.18,"r":86},{"t":1992.46,"r":96},{"t":1992.68,"r":75},{"t":1992.91,"r":94},
{"t":1993.13,"r":70},{"t":1993.47,"r":60},{"t":1993.7,"r":40},{"t":1993.92,"r":60},{"t":1994.15,"r":30},{"t":1994.37,"r":35},{"t":1994.71,"r":45},{"t":1994.94,"r":22},{"t":1995.39,"r":25},{"t":1995.73,"r":19},{"t":1996.07,"r":14},{"t":1996.41,"r":12},{"t":1996.75,"r":19},{"t":1996.97,"r":9},
{"t":1997.31,"r":19},{"t":1997.65,"r":40},{"t":1997.88,"r":50},{"t":1998.1,"r":55},{"t":1998.33,"r":70},{"t":1998.55,"r":96},{"t":1998.78,"r":70},{"t":1999,"r":81},{"t":1999.23,"r":75},{"t":1999.41,"r":142},{"t":1999.64,"r":86},{"t":1999.8,"r":137},{"t":1999.91,"r":131},{"t":2000,"r":120}
]
},
"vconcat":[
{
 "width":930,"height":243,
 "data":{"name":"fof2"},
 "resolve":{"axis":{"y":"independent"}},
 "layer":[
  {"mark":{"type":"area","color":"#0e1915","opacity":1,"clip":true,"invalid":"break-paths-show-domains"},
   "encoding":{
    "x":{"field":"t","type":"quantitative","scale":{"domain":[1937,2000],"nice":false,"zero":false},
         "axis":{"values":[1940,1945,1950,1955,1960,1965,1970,1975,1980,1985,1990,1995,2000],"labels":false,"tickSize":-6,"title":null,"domain":true}},
    "y":{"field":"n","type":"quantitative","scale":{"domain":[2.5,17.5],"nice":false,"zero":false},
         "axis":{"orient":"left","values":[5,10,15],"format":"d","tickSize":11,"labelPadding":6,"title":"(MHz)","titleAngle":0,"titleAlign":"left","titleBaseline":"alphabetic","titleX":-72,"titleY":15,"titleFontSize":20,"titleFontWeight":"bold","domain":true}},
    "y2":{"datum":2.5}
   }},
  {"mark":{"type":"area","color":"#f9c814","opacity":1,"clip":true,"invalid":"break-paths-show-domains"},
   "encoding":{
    "x":{"field":"t","type":"quantitative"},
    "y":{"field":"m","type":"quantitative","axis":{"orient":"right","values":[5,10,15],"labels":false,"tickSize":10,"title":null,"domain":true}},
    "y2":{"datum":2.5}
   }},
  {"data":{"values":[{}]},"mark":{"type":"text","text":"Noon","align":"left","baseline":"alphabetic","fontSize":21.5,"color":"#161616"},
   "encoding":{"x":{"datum":1951.6,"type":"quantitative"},"y":{"datum":11.08,"type":"quantitative","axis":null}}},
  {"data":{"values":[{}]},"mark":{"type":"text","text":"Midnight","align":"left","baseline":"alphabetic","fontSize":21.5,"color":"#222222"},
   "encoding":{"x":{"datum":1956.1,"type":"quantitative"},"y":{"datum":3.24,"type":"quantitative","axis":null}}},
  {"data":{"values":[{}]},"mark":{"type":"text","text":"No Data","align":"left","baseline":"alphabetic","fontSize":15,"color":"#e2d23c"},
   "encoding":{"x":{"datum":1939.27,"type":"quantitative"},"y":{"datum":3.2,"type":"quantitative","axis":null}}},
  {"data":{"values":[{}]},"mark":{"type":"text","text":")","align":"right","baseline":"alphabetic","fontSize":21.5,"color":"#1a1a1a"},
   "encoding":{"x":{"datum":1997.66,"type":"quantitative"},"y":{"datum":15.94,"type":"quantitative","axis":null}}},
  {"data":{"values":[{}]},"mark":{"type":"text","text":"foF2","align":"right","baseline":"alphabetic","fontSize":21.5,"fontStyle":"italic","dx":-8.4,"color":"#1a1a1a"},
   "encoding":{"x":{"datum":1997.66,"type":"quantitative"},"y":{"datum":15.94,"type":"quantitative","axis":null}}},
  {"data":{"values":[{}]},"mark":{"type":"text","text":"Ionospheric critical frequency (","align":"right","baseline":"alphabetic","fontSize":21.5,"dx":-55.2,"color":"#1a1a1a"},
   "encoding":{"x":{"datum":1997.66,"type":"quantitative"},"y":{"datum":15.94,"type":"quantitative","axis":null}}}
 ]
},
{
 "width":930,"height":182,
 "data":{"name":"ssn"},
 "resolve":{"axis":{"y":"independent"}},
 "layer":[
  {"mark":{"type":"area","color":"#e5281e","opacity":1,"clip":true,"line":{"color":"#36355f","strokeWidth":1.4}},
   "encoding":{
    "x":{"field":"t","type":"quantitative","scale":{"domain":[1937,2000],"nice":false,"zero":false},
         "axis":{"values":[1940,1945,1950,1955,1960,1965,1970,1975,1980,1985,1990,1995,2000],"format":"d","labelExpr":"datum.value % 10 === 0 ? datum.label : ''","tickSize":6,"labelPadding":16,"labelFlush":false,"labelOffset":-2,"title":"Year","titleFontSize":20,"titleFontWeight":"bold","titleAlign":"center","titleBaseline":"alphabetic","titleX":491,"titleY":79,"domain":true}},
    "y":{"field":"r","type":"quantitative","scale":{"domain":[0,280],"nice":false},
         "axis":{"orient":"left","values":[0,100,200],"format":"d","tickSize":11,"labelPadding":7,"title":null,"domain":true}}
   }},
  {"data":{"values":[{}]},"mark":{"type":"text","text":"Relative sunspot number","align":"left","baseline":"alphabetic","fontSize":21.5,"color":"#1a1a1a"},
   "encoding":{"x":{"datum":1978.45,"type":"quantitative"},
    "y":{"datum":229.7,"type":"quantitative","axis":{"orient":"right","values":[0,100,200],"labels":false,"tickSize":10,"title":null,"domain":true}}}}
 ]
}
]
}
